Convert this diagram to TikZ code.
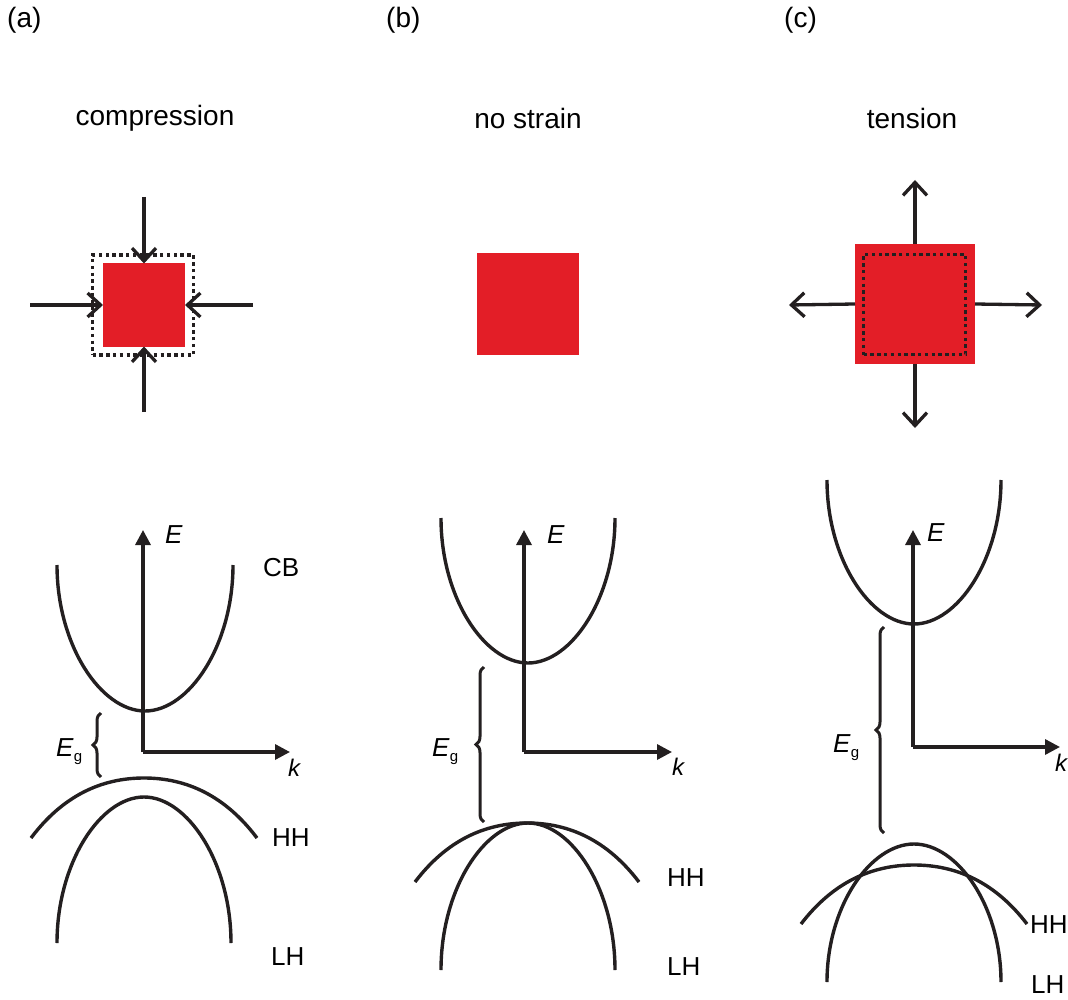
\documentclass[tikz,border=0pt]{standalone}
\usepackage{fontspec}
\setmainfont{Liberation Sans}
\usetikzlibrary{arrows.meta,decorations.pathreplacing}
\definecolor{sqred}{RGB}{227,30,39}
\definecolor{ink}{RGB}{35,31,32}
\newcommand\bandcurve[7]{\draw[band] ({#1-#3},#4) .. controls ({#1-#5*#3},{#4+#6*(#2-#4)}) and ({#1-#7*#3},#2) .. (#1,#2) .. controls ({#1+#7*#3},#2) and ({#1+#5*#3},{#4+#6*(#2-#4)}) .. ({#1+#3},#4);}
\begin{document}
\begin{tikzpicture}[x=1pt,y=-1pt,
  band/.style={draw=ink,line width=3.4pt},
  axis/.style={draw=ink,line width=3.3pt,-{Triangle[length=15pt,width=15pt]}},
  strain/.style={draw=ink,line width=3.3pt,-{Straight Barb[length=13pt,width=24pt]}},
  redsq/.style={fill=sqred,draw=none,inner sep=0pt,outer sep=0pt},
  dotsq/.style={draw=ink,line width=3.5pt,dash pattern=on 3.4pt off 3.4pt,inner sep=0pt,outer sep=0pt},
  ttl/.style={font=\fontsize{28}{30}\selectfont,inner sep=0pt},
  lbl/.style={font=\fontsize{26}{28}\selectfont,anchor=west,inner sep=0pt},
  axl/.style={font=\fontsize{26}{28}\selectfont\itshape,anchor=west,inner sep=0pt},
  kl/.style={font=\fontsize{24}{26}\selectfont\itshape,anchor=west,inner sep=0pt},
  egl/.style={font=\fontsize{26}{28}\selectfont,anchor=west,inner sep=0pt},
  brc/.style={draw=ink,line width=3pt,decorate,decoration={brace,amplitude=8pt}}]
\useasboundingbox (0,0) rectangle (1068,1000);

% panel titles
\node[ttl,anchor=west] (ta) at (7,20) {(a)};
\node[ttl,anchor=west] (tb) at (386,20) {(b)};
\node[ttl,anchor=west] (tc) at (784,20) {(c)};
\node[ttl] (na) at (155,118) {compression};
\node[ttl] (nb) at (528,118) {no strain};
\node[ttl] (nc) at (912,118) {tension};

% (a) compression square
\node[dotsq,minimum width=101pt,minimum height=100pt] (dota) at (143,305) {};
\node[redsq,minimum width=82pt,minimum height=83pt] (sqa) at (144,305) {};
\coordinate (aT) at (144,197);
\coordinate (aB) at (144,412);
\coordinate (aL) at (30,305);
\coordinate (aR) at (253,305);
\draw[strain] (aT) -- (sqa.north);
\draw[strain] (aB) -- (sqa.south);
\draw[strain] (aL) -- (sqa.west);
\draw[strain] (aR) -- (sqa.east);

% (b) square
\node[redsq,minimum size=102pt] (sqb) at (528,304) {};

% (c) tension square
\node[redsq,minimum size=120pt] (sqc) at (915,304) {};
\node[dotsq,minimum width=102pt,minimum height=100pt] (dotc) at (914.5,304.5) {};
\coordinate (cT) at (915,180);
\coordinate (cB) at (915,428);
\coordinate (cL) at (789,305);
\coordinate (cR) at (1042,305);
\draw[strain] (sqc.north) -- (cT);
\draw[strain] (sqc.south) -- (cB);
\draw[strain] (sqc.west) -- (cL);
\draw[strain] (sqc.east) -- (cR);

% ---------- (a) bands
\coordinate (oa) at (143,752);
\coordinate (ea) at (143,530);
\coordinate (ka) at (290,752);
\draw[axis] (oa) -- (ea);
\draw[axis] (oa) -- (ka);
\node[axl] (Ea) at (165,535) {E};
\node[kl] (kla) at (288,768) {k};
\bandcurve{145}{711}{88}{565}{1}{0.55}{0.5}
\bandcurve{144}{778}{113}{838}{0.72}{0.7}{0.38}
\bandcurve{144}{797}{87}{943}{1}{0.55}{0.5}
\node[lbl] (CBa) at (263,568) {CB};
\node[lbl] (HHa) at (272,838) {HH};
\node[lbl] (LHa) at (271,957) {LH};
\coordinate (ga1) at (101,777);
\coordinate (ga2) at (101,713);
\draw[brc] (ga1) -- (ga2);
\node[egl] (Ega) at (56,752) {\textit{E}\raisebox{-5pt}{\fontsize{15}{15}\selectfont g}};

% ---------- (b) bands
\coordinate (ob) at (524,752);
\coordinate (eb) at (524,530);
\coordinate (kb) at (672,752);
\draw[axis] (ob) -- (eb);
\draw[axis] (ob) -- (kb);
\node[axl] (Eb) at (547,535) {E};
\node[kl] (klb) at (672,767) {k};
\bandcurve{528}{663}{87}{518}{1}{0.55}{0.5}
\bandcurve{527}{823}{112}{882}{0.72}{0.7}{0.38}
\bandcurve{528}{823}{87}{970}{1}{0.55}{0.5}
\node[lbl] (HHb) at (667,878) {HH};
\node[lbl] (LHb) at (667,967) {LH};
\coordinate (gb1) at (484,822);
\coordinate (gb2) at (484,667);
\draw[brc] (gb1) -- (gb2);
\node[egl] (Egb) at (432,752) {\textit{E}\raisebox{-5pt}{\fontsize{15}{15}\selectfont g}};

% ---------- (c) bands
\coordinate (oc) at (913,747);
\coordinate (ec) at (913,530);
\coordinate (kc) at (1060,747);
\draw[axis] (oc) -- (ec);
\draw[axis] (oc) -- (kc);
\node[axl] (Ec) at (927,533) {E};
\node[kl] (klc) at (1055,763) {k};
\bandcurve{914}{624}{87}{480}{1}{0.55}{0.5}
\bandcurve{914}{865}{113}{924}{0.72}{0.7}{0.38}
\bandcurve{914}{844}{87}{982}{1}{0.55}{0.5}
\node[lbl] (HHc) at (1030,925) {HH};
\node[lbl] (LHc) at (1031,985) {LH};
\coordinate (gc1) at (884,833);
\coordinate (gc2) at (884,627);
\draw[brc] (gc1) -- (gc2);
\node[egl] (Egc) at (833,748) {\textit{E}\raisebox{-5pt}{\fontsize{15}{15}\selectfont g}};
\end{tikzpicture}
\end{document}
